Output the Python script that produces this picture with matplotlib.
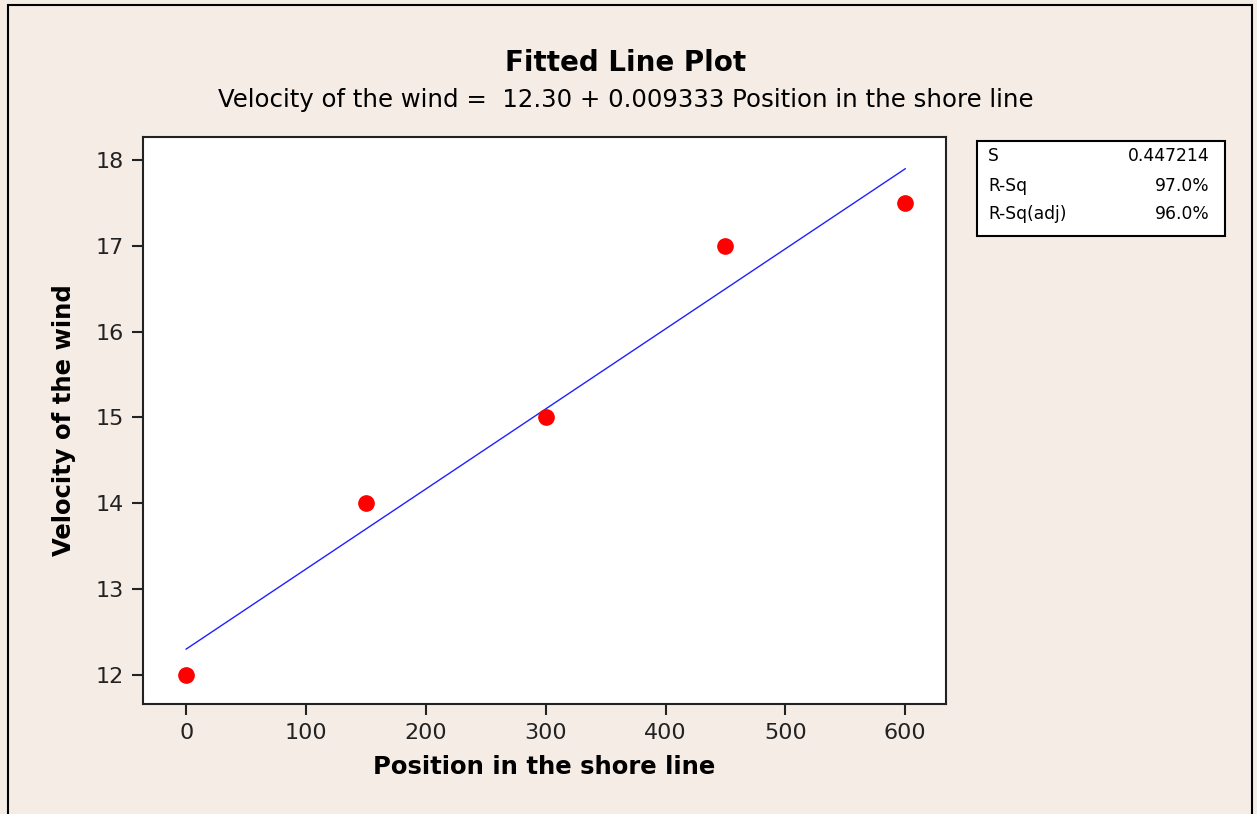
import matplotlib
matplotlib.use("Agg")
import matplotlib.pyplot as plt
from matplotlib.patches import Rectangle
import numpy as np

# Observations
position = [0, 150, 300, 450, 600]
velocity = [12, 14, 15, 17, 17.5]

# Regression summary
intercept = 12.30
slope = 0.009333
stat_names = ["S", "R-Sq", "R-Sq(adj)"]
stat_values = ["0.447214", "97.0%", "96.0%"]

x_ticks = [0, 100, 200, 300, 400, 500, 600]
y_ticks = [12, 13, 14, 15, 16, 17, 18]

bg = "#F5ECE6"
W, H = 1257, 814
fig = plt.figure(figsize=(W / 100, H / 100), dpi=100, facecolor=bg)

# Outer frame
fig.patches.append(Rectangle((8 / W, -0.01), (1252 - 8) / W, 1 - 5 / H + 0.01,
                             transform=fig.transFigure, fill=False,
                             edgecolor="black", linewidth=1.5))

ax_l, ax_r, ax_t, ax_b = 143, 946, 137, 704
ax = fig.add_axes([ax_l / W, 1 - ax_b / H, (ax_r - ax_l) / W, (ax_b - ax_t) / H])
ax.set_facecolor("white")

xs = np.array([min(position), max(position)])
ax.plot(xs, intercept + slope * xs, color="#2020FF", linewidth=1.0, zorder=2)
ax.plot(position, velocity, "o", color="red", markersize=11, zorder=3)

ax.set_xlim(-36, 634)
ax.set_ylim(11.66, 18.27)
ax.set_xticks(x_ticks)
ax.set_yticks(y_ticks)
ax.tick_params(direction="out", length=8, width=1.5, labelsize=16, colors="#222222", pad=6)
for s in ax.spines.values():
    s.set_linewidth(1.5)
    s.set_color("#222222")

ax.set_xlabel("Position in the shore line", fontsize=17.5, fontweight="bold", labelpad=8)
ax.set_ylabel("Velocity of the wind", fontsize=17.5, fontweight="bold", labelpad=14)

fig.text(626 / W, 1 - 63 / H, "Fitted Line Plot", ha="center", va="center",
         fontsize=20, fontweight="bold")
fig.text(626 / W, 1 - 100 / H,
         f"Velocity of the wind =  {intercept:.2f} + {slope:.6f} Position in the shore line",
         ha="center", va="center", fontsize=17.6)

# Statistics box
bx_l, bx_r, bx_t, bx_b = 977, 1225, 141, 236
fig.patches.append(Rectangle((bx_l / W, 1 - bx_b / H), (bx_r - bx_l) / W, (bx_b - bx_t) / H,
                             transform=fig.transFigure, facecolor="white",
                             edgecolor="black", linewidth=1.5))
row_y = [156, 186, 214]
for name, val, yy in zip(stat_names, stat_values, row_y):
    fig.text(988 / W, 1 - yy / H, name, ha="left", va="center", fontsize=12.3)
    fig.text(1210 / W, 1 - yy / H, val, ha="right", va="center", fontsize=12.3)

fig.savefig("out.png", dpi=100, facecolor=bg)
